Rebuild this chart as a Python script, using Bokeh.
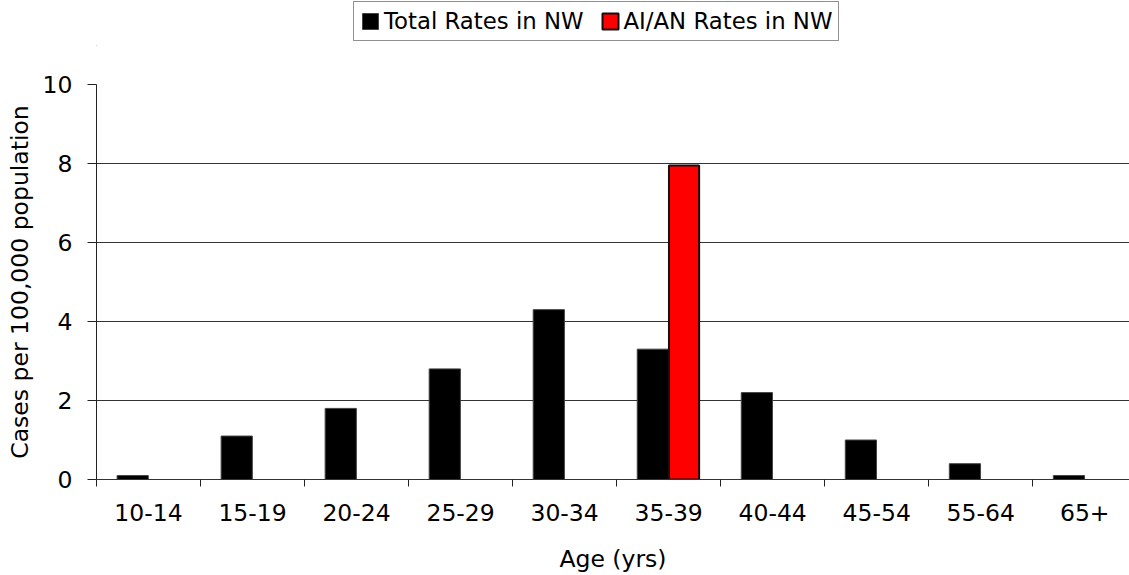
import numpy as np
from bokeh.plotting import figure
from bokeh.layouts import column
from bokeh.models import (Range1d, FixedTicker, ColumnDataSource, Legend, LegendItem, Grid)
from bokeh.embed import file_html
from bokeh.resources import INLINE

categories = ["10-14", "15-19", "20-24", "25-29", "30-34", "35-39",
              "40-44", "45-54", "55-64", "65+"]
total_rates = [0.1, 1.1, 1.8, 2.8, 4.3, 3.3, 2.2, 1.0, 0.4, 0.1]
aian_rates = [None, None, None, None, None, 7.95, None, None, None, None]
y_ticks = [0, 2, 4, 6, 8, 10]
series_names = ["Total Rates in NW", "AI/AN Rates in NW"]

FONT = "DejaVu Sans"
FS = "23.5px"
LEG_H = 46

n = len(categories)
centers = [i + 0.5 for i in range(n)]
bounds = list(range(n + 1))

src_total = ColumnDataSource(dict(x=[c - 0.152 for c in centers], top=total_rates))
ai_x = [c + 0.148 for c, v in zip(centers, aian_rates) if v is not None]
ai_top = [v for v in aian_rates if v is not None]
src_ai = ColumnDataSource(dict(x=ai_x, top=ai_top))

total_style = dict(fill_color="black", line_color="#444444", line_width=1)
ai_style = dict(fill_color="#ff0000", line_color="#111111", line_width=2)

# ---- main plot ----
p = figure(width=1129, height=575 - LEG_H, output_backend="svg", toolbar_location=None,
           x_range=Range1d(0, 9.93), y_range=Range1d(0, 10),
           min_border_left=96, min_border_right=0, min_border_top=84 - LEG_H,
           min_border_bottom=0)
p.outline_line_color = None
p.background_fill_color = "white"
p.border_fill_color = "white"
p.xgrid.visible = False
p.ygrid.visible = False

p.add_layout(Grid(dimension=1, ticker=FixedTicker(ticks=[2, 4, 6, 8]),
                  grid_line_color="#333333", grid_line_width=1))

p.vbar(x="x", top="top", bottom=0, width=0.30, source=src_total, **total_style)
p.vbar(x="x", top="top", bottom=0, width=0.29, source=src_ai, **ai_style)

xa = p.xaxis[0]
xa.ticker = FixedTicker(ticks=centers, minor_ticks=bounds)
xa.major_label_overrides = {c: lab for c, lab in zip(centers, categories)}
xa.major_tick_line_color = None
xa.minor_tick_line_color = "#222222"
xa.minor_tick_out = 7
xa.minor_tick_in = 0
xa.axis_line_color = "#333333"
xa.major_label_text_font = FONT
xa.major_label_text_font_size = FS
xa.major_label_text_color = "black"
xa.major_label_standoff = 17
xa.axis_label = "Age (yrs)"
xa.axis_label_text_font = FONT
xa.axis_label_text_font_size = FS
xa.axis_label_text_font_style = "normal"
xa.axis_label_text_color = "black"
xa.axis_label_standoff = 21

ya = p.yaxis[0]
ya.ticker = FixedTicker(ticks=y_ticks, minor_ticks=[])
ya.major_tick_out = 9
ya.major_tick_in = 0
ya.major_tick_line_color = "#222222"
ya.minor_tick_line_color = None
ya.axis_line_color = "#222222"
ya.major_label_text_font = FONT
ya.major_label_text_font_size = FS
ya.major_label_text_color = "black"
ya.major_label_standoff = 15
ya.axis_label = "Cases per 100,000 population"
ya.axis_label_text_font = FONT
ya.axis_label_text_font_size = FS
ya.axis_label_text_font_style = "normal"
ya.axis_label_text_color = "black"
ya.axis_label_standoff = 6

# ---- legend strip ----
pl = figure(width=1129, height=LEG_H, output_backend="svg", toolbar_location=None,
            x_range=Range1d(100, 101), y_range=Range1d(100, 101),
            min_border=0, x_axis_type=None, y_axis_type=None)
pl.outline_line_color = None
pl.xgrid.visible = False
pl.ygrid.visible = False
pl.background_fill_color = "white"
pl.border_fill_color = "white"
l1 = pl.vbar(x="x", top="top", bottom=0, width=0.30, source=src_total, **total_style)
l2 = pl.vbar(x="x", top="top", bottom=0, width=0.29, source=src_ai, **ai_style)

legend = Legend(items=[LegendItem(label=series_names[0], renderers=[l1]),
                       LegendItem(label=series_names[1], renderers=[l2])],
                orientation="horizontal", location=(257, 5),
                label_text_font=FONT, label_text_font_size="22.8px",
                label_text_color="black",
                glyph_width=20, glyph_height=20, label_standoff=4,
                spacing=16, padding=6, margin=0,
                border_line_color="#222222", border_line_width=1,
                background_fill_color="white", background_fill_alpha=1.0)
pl.add_layout(legend, "center")

layout = column(pl, p, spacing=0)
open("out.html", "w").write(file_html(layout, INLINE))
